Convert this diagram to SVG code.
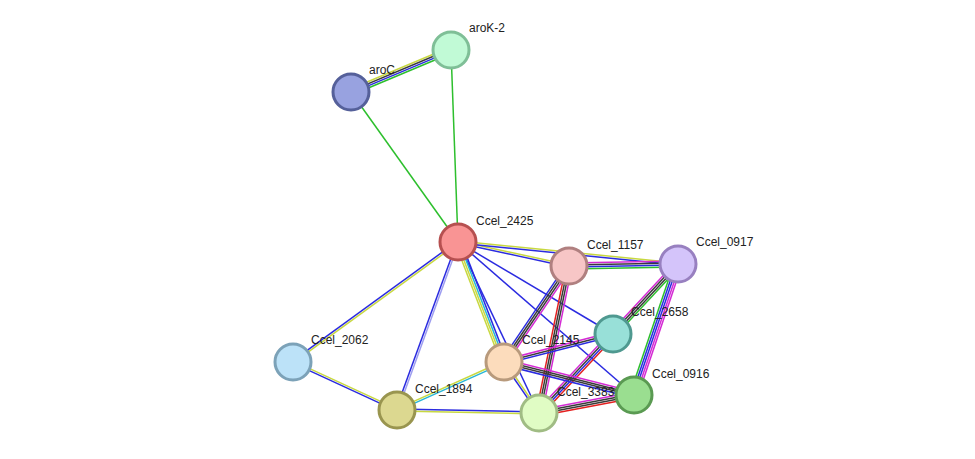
<svg xmlns="http://www.w3.org/2000/svg" width="975" height="459" viewBox="0 0 975 459">
<style>
line{stroke-width:1.5;fill:none}
.y{stroke:#c8d841}.k{stroke:#3a3a3a}.b{stroke:#2b2be0}.g{stroke:#2dbf2d}.m{stroke:#d42ad4}.r{stroke:#e42020}.c{stroke:#29b6d6}.lb{stroke:#9e9ef0}
circle{stroke-width:3}
text{font-family:"Liberation Sans",Arial,sans-serif;font-size:12px;fill:#222}
</style>
<rect width="975" height="459" fill="#fff"/>
<g id="edges">
<g transform="translate(351,92) rotate(-22.8)"><line class="y" x1="0" x2="108.5" y1="-3" y2="-3"/><line class="k" x1="0" x2="108.5" y1="-1" y2="-1"/><line class="b" x1="0" x2="108.5" y1="1" y2="1"/><line class="g" x1="0" x2="108.5" y1="3" y2="3"/></g>
<line class="g" x1="351" y1="92" x2="458" y2="242"/>
<line class="g" x1="451" y1="50" x2="458" y2="242"/>
<g transform="translate(458,242) rotate(12.2)"><line class="y" x1="0" x2="113.6" y1="-1" y2="-1"/><line class="b" x1="0" x2="113.6" y1="1" y2="1"/></g>
<g transform="translate(458,242) rotate(5.7)"><line class="y" x1="0" x2="221" y1="-1" y2="-1"/><line class="b" x1="0" x2="221" y1="1" y2="1"/></g>
<line class="b" x1="458" y1="242" x2="613" y2="334"/>
<line class="b" x1="458" y1="242" x2="634" y2="395"/>
<line class="b" x1="458" y1="242" x2="539" y2="413"/>
<g transform="translate(458,242) rotate(69.0)"><line class="b" x1="0" x2="128.5" y1="-3" y2="-3"/><line class="c" x1="0" x2="128.5" y1="-1" y2="-1"/><line class="y" x1="0" x2="128.5" y1="1" y2="1"/><line class="y" x1="0" x2="128.5" y1="3" y2="3"/></g>
<g transform="translate(458,242) rotate(110.0)"><line class="lb" x1="0" x2="178.7" y1="-1" y2="-1"/><line class="b" x1="0" x2="178.7" y1="1" y2="1"/></g>
<g transform="translate(458,242) rotate(144.0)"><line class="y" x1="0" x2="204" y1="-1" y2="-1"/><line class="b" x1="0" x2="204" y1="1" y2="1"/></g>
<g transform="translate(293,362) rotate(24.8)"><line class="y" x1="0" x2="114.5" y1="-1" y2="-1"/><line class="b" x1="0" x2="114.5" y1="1" y2="1"/></g>
<g transform="translate(397,410) rotate(1.2)"><line class="b" x1="0" x2="142" y1="-1" y2="-1"/><line class="y" x1="0" x2="142" y1="1" y2="1"/></g>
<g transform="translate(397,410) rotate(-24.2)"><line class="y" x1="0" x2="117.3" y1="-1" y2="-1"/><line class="c" x1="0" x2="117.3" y1="1" y2="1"/></g>
<g transform="translate(569,266) rotate(-1.05)"><line class="m" x1="0" x2="109" y1="-3" y2="-3"/><line class="k" x1="0" x2="109" y1="-1" y2="-1"/><line class="b" x1="0" x2="109" y1="1" y2="1"/><line class="g" x1="0" x2="109" y1="3" y2="3"/></g>
<g transform="translate(569,266) rotate(124.1)"><line class="m" x1="0" x2="116" y1="-3" y2="-3"/><line class="k" x1="0" x2="116" y1="-1" y2="-1"/><line class="k" x1="0" x2="116" y1="1" y2="1"/><line class="b" x1="0" x2="116" y1="3" y2="3"/></g>
<g transform="translate(569,266) rotate(101.5)"><line class="m" x1="0" x2="150" y1="-3" y2="-3"/><line class="k" x1="0" x2="150" y1="-1" y2="-1"/><line class="k" x1="0" x2="150" y1="1" y2="1"/><line class="r" x1="0" x2="150" y1="3" y2="3"/></g>
<g transform="translate(678,264) rotate(132.9)"><line class="g" x1="0" x2="95.5" y1="-3" y2="-3"/><line class="k" x1="0" x2="95.5" y1="-1" y2="-1"/><line class="k" x1="0" x2="95.5" y1="1" y2="1"/><line class="m" x1="0" x2="95.5" y1="3" y2="3"/></g>
<g transform="translate(678,264) rotate(108.6)"><line class="m" x1="0" x2="138" y1="-4" y2="-4"/><line class="m" x1="0" x2="138" y1="-2" y2="-2"/><line class="b" x1="0" x2="138" y1="0" y2="0"/><line class="b" x1="0" x2="138" y1="2" y2="2"/><line class="g" x1="0" x2="138" y1="4" y2="4"/></g>
<g transform="translate(613,334) rotate(165.6)"><line class="b" x1="0" x2="112.5" y1="-2" y2="-2"/><line class="k" x1="0" x2="112.5" y1="0" y2="0"/><line class="m" x1="0" x2="112.5" y1="2" y2="2"/></g>
<g transform="translate(613,334) rotate(133.1)"><line class="r" x1="0" x2="108" y1="-3" y2="-3"/><line class="b" x1="0" x2="108" y1="-1" y2="-1"/><line class="k" x1="0" x2="108" y1="1" y2="1"/><line class="m" x1="0" x2="108" y1="3" y2="3"/></g>
<g transform="translate(504,362) rotate(14.2)"><line class="m" x1="0" x2="134" y1="-3" y2="-3"/><line class="k" x1="0" x2="134" y1="-1" y2="-1"/><line class="k" x1="0" x2="134" y1="1" y2="1"/><line class="b" x1="0" x2="134" y1="3" y2="3"/></g>
<g transform="translate(504,362) rotate(55.5)"><line class="y" x1="0" x2="62" y1="-1" y2="-1"/><line class="b" x1="0" x2="62" y1="1" y2="1"/></g>
<g transform="translate(539,413) rotate(-10.7)"><line class="m" x1="0" x2="96.7" y1="-3" y2="-3"/><line class="k" x1="0" x2="96.7" y1="-1" y2="-1"/><line class="k" x1="0" x2="96.7" y1="1" y2="1"/><line class="r" x1="0" x2="96.7" y1="3" y2="3"/></g>
</g>
<g id="aroK-2"><circle cx="451" cy="50" r="18" fill="#c1fad6" stroke="#7fbf97"/><text x="469" y="32">aroK-2</text></g>
<g id="aroC"><circle cx="351" cy="92" r="18" fill="#98a2e0" stroke="#55609a"/><text x="369" y="74">aroC</text></g>
<g id="Ccel_2425"><circle cx="458" cy="242" r="18" fill="#f99494" stroke="#b65050"/><text x="476" y="225">Ccel_2425</text></g>
<g id="Ccel_1157"><circle cx="569" cy="266" r="18" fill="#f7c6c6" stroke="#b08080"/><text x="587" y="249">Ccel_1157</text></g>
<g id="Ccel_0917"><circle cx="678" cy="264" r="18" fill="#d4c4fa" stroke="#9880c0"/><text x="696" y="246">Ccel_0917</text></g>
<g id="Ccel_2658"><circle cx="613" cy="334" r="18" fill="#98e0d8" stroke="#4f9990"/><text x="631" y="316">Ccel_2658</text></g>
<g id="Ccel_2145"><circle cx="504" cy="362" r="18" fill="#fcdcbc" stroke="#b89a7c"/><text x="522" y="344">Ccel_2145</text></g>
<g id="Ccel_0916"><circle cx="634" cy="395" r="18" fill="#9ade90" stroke="#5a9a52"/><text x="652" y="378">Ccel_0916</text></g>
<g id="Ccel_3383"><circle cx="539" cy="413" r="18" fill="#e0fcc4" stroke="#a0bc84"/><text x="557" y="396">Ccel_3383</text></g>
<g id="Ccel_1894"><circle cx="397" cy="410" r="18" fill="#dcd890" stroke="#99954f"/><text x="415" y="393">Ccel_1894</text></g>
<g id="Ccel_2062"><circle cx="293" cy="362" r="18" fill="#bce2f8" stroke="#7ca2b8"/><text x="311" y="344">Ccel_2062</text></g>
</svg>
